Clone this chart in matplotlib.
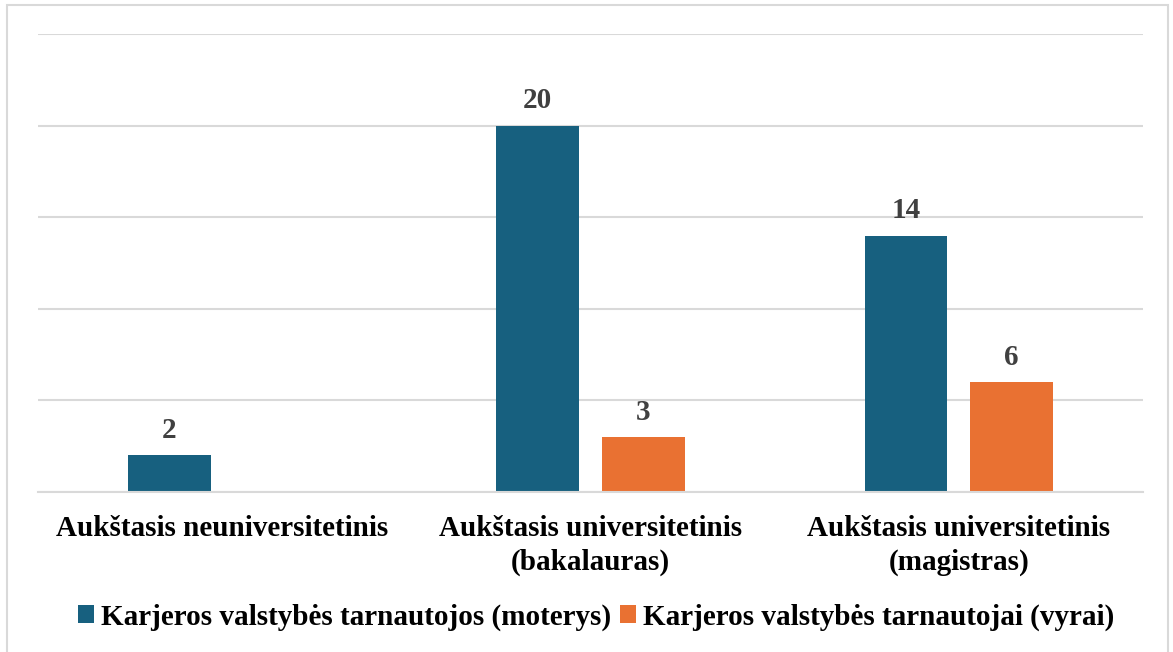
import numpy as np
import matplotlib.pyplot as plt
from matplotlib.patches import Rectangle

categories = ["Aukštasis neuniversitetinis",
              "Aukštasis universitetinis\n(bakalauras)",
              "Aukštasis universitetinis\n(magistras)"]
women = [2, 20, 14]
men = [0, 3, 6]
series_names = ["Karjeros valstybės tarnautojos (moterys)",
                "Karjeros valstybės tarnautojai (vyrai)"]
colors = ["#17607F", "#E97132"]

plt.rcParams['font.family'] = ['Liberation Serif', 'DejaVu Serif']

fig = plt.figure(figsize=(11.73, 6.52), dpi=100)
ax = fig.add_axes([38 / 1173, 1 - 492 / 652, 1105 / 1173, 458 / 652])

x = np.arange(len(categories))
w = 0.225
off = 0.1435
b1 = ax.bar(x - off, women, w, color=colors[0], label=series_names[0])
b2 = ax.bar(x + off, men, w, color=colors[1], label=series_names[1])

# value labels, skip the empty bar
for bars, vals in ((b1, women), (b2, men)):
    for rect, v in zip(bars, vals):
        if v == 0:
            continue
        ax.annotate(str(v), (rect.get_x() + rect.get_width() / 2, v),
                    xytext=(0, 8), textcoords='offset points',
                    ha='center', va='bottom', fontsize=21,
                    fontweight='bold', color='#404040')

ax.set_xlim(-0.5, 2.5)
ax.set_ylim(0, 25)
ax.set_yticks([0, 5, 10, 15, 20, 25])
ax.yaxis.grid(True, color='#D9D9D9', linewidth=1.5)
ax.set_axisbelow(True)
ax.tick_params(left=False, labelleft=False, bottom=False)
for s in ('top', 'right', 'left'):
    ax.spines[s].set_visible(False)
ax.spines['bottom'].set_color('#D9D9D9')
ax.spines['bottom'].set_linewidth(1.5)

ax.set_xticks(x)
ax.set_xticklabels(categories, fontsize=21, fontweight='bold',
                   linespacing=1.3)
ax.tick_params(axis='x', pad=13)

fig.legend(handles=[b1, b2], loc='center', bbox_to_anchor=(596 / 1173, 1 - 617 / 652),
           ncol=2, frameon=False, prop={'size': 21, 'weight': 'bold'},
           handlelength=0.55, handleheight=0.55, handletextpad=0.25,
           columnspacing=0.3)

fig.patches.append(Rectangle((7 / 1173, -0.05), 1161 / 1173, 1.05 - 5 / 652,
                             transform=fig.transFigure, fill=False,
                             edgecolor='#D9D9D9', linewidth=1.5))

fig.savefig('out.png', dpi=100)
